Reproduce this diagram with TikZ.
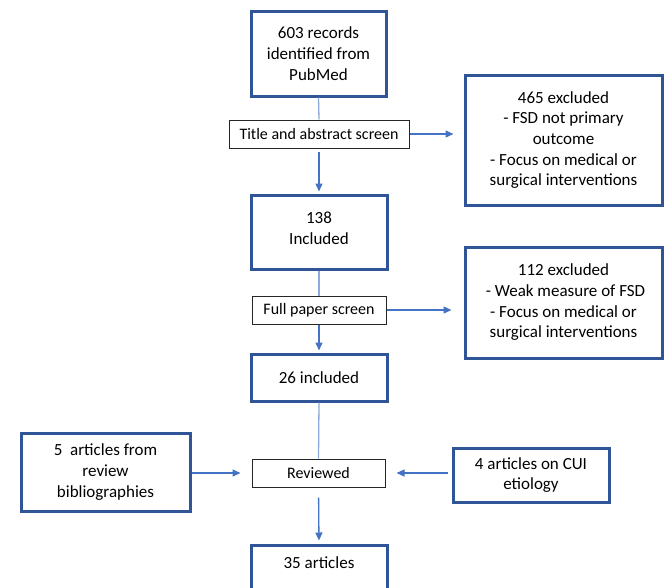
\documentclass[tikz,border=0pt]{standalone}
\usepackage{fontspec}
\setmainfont{Carlito}
\usetikzlibrary{arrows.meta,positioning,calc}
\definecolor{boxblue}{RGB}{47,85,151}
\definecolor{arrowblue}{RGB}{68,114,196}
\definecolor{lineblue}{RGB}{143,170,220}
\tikzstyle{stage} = [draw=boxblue, line width=3pt, align=center, inner sep=2pt, font=\fontsize{17}{20.7}\selectfont]
\tikzstyle{screen} = [draw=black!85, line width=1pt, align=center, inner sep=2pt, font=\fontsize{16}{19.5}\selectfont]
\tikzstyle{arrow} = [arrowblue, line width=1.3pt, -{Triangle[length=8pt,width=7pt]}]
\tikzstyle{link} = [lineblue, line width=1.3pt]

\begin{document}
\begin{tikzpicture}[x=1pt,y=-1pt]
\useasboundingbox (0,0) rectangle (664,587);
\draw (318.5,53.5) node (rec) [stage, minimum width=135, minimum height=85] {603 records\\identified from\\PubMed};
\draw (319,134) node (title) [screen, minimum width=180, minimum height=28] {Title and abstract screen};
\draw (563.5,140) node (exc1) [stage, minimum width=197, minimum height=130] {465 excluded\\- FSD not primary\\outcome\\- Focus on medical or\\surgical interventions};
\draw (319,232) node (inc) [stage, minimum width=136, minimum height=74, text depth=8pt] {138\\Included};
\draw (319,310) node (full) [screen, minimum width=134, minimum height=28] {Full paper screen};
\draw (563.5,302.5) node (exc2) [stage, minimum width=197, minimum height=111] {112 excluded\\\ - Weak measure of FSD\\- Focus on medical or\\surgical interventions};
\draw (319,377.5) node (inc2) [stage, minimum width=136, minimum height=47] {26 included};
\draw (105.5,472) node (bib) [stage, minimum width=169, minimum height=78] {5\ \ articles from\\review\\bibliographies};
\draw (318.5,473) node (rev) [screen, minimum width=133, minimum height=28] {Reviewed};
\draw (531,475) node (cui) [stage, minimum width=156, minimum height=54] {4 articles on CUI\\etiology};
\draw (319,568.5) node (art) [stage, minimum width=136, minimum height=47, text depth=12pt] {35 articles};
\draw [link] (rec.south)--(title.north);
\draw [arrow, shorten <=3pt, shorten >=2pt] (title.south)--(inc.north);
\draw [arrow, shorten >=10pt] (title.east)--(title.east -| exc1.west);
\draw [link] (inc.south)--(full.north);
\draw [arrow, shorten >=2pt] (full.south)--(inc2.north);
\draw [arrow, shorten >=12pt] (full.east)--(full.east -| exc2.west);
\draw [link] (inc2.south)--(rev.north);
\draw [arrow, shorten >=11pt] (bib.east |- rev.west)--(rev.west);
\draw [arrow, shorten <=4pt, shorten >=11pt] (cui.west |- rev.east)--(rev.east);
\draw [arrow, shorten <=10pt, shorten >=3pt] (rev.south)--(art.north);
\end{tikzpicture}
\end{document}
